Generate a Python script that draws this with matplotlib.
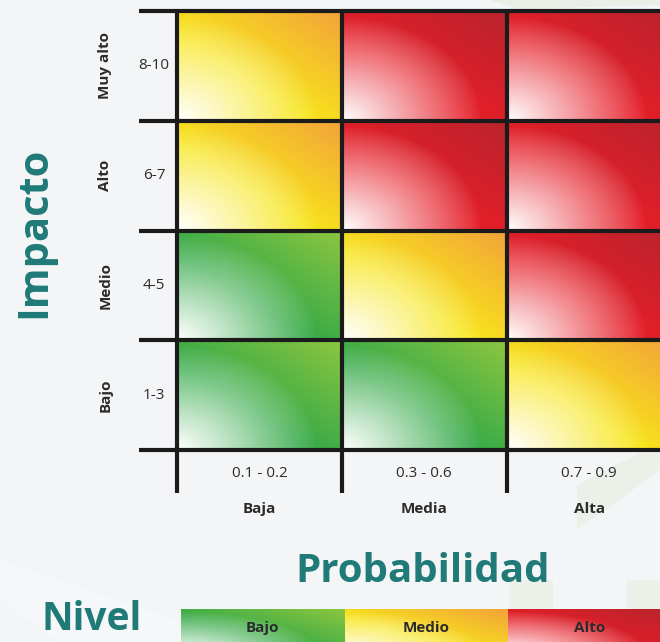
import numpy as np
import matplotlib
matplotlib.use("Agg")
import matplotlib.pyplot as plt
from matplotlib.patches import Polygon

# Risk matrix: impact (rows) vs probability (columns)
impact_names = ["Bajo", "Medio", "Alto", "Muy alto"]
impact_ranges = ["1-3", "4-5", "6-7", "8-10"]
prob_names = ["Baja", "Media", "Alta"]
prob_ranges = ["0.1 - 0.2", "0.3 - 0.6", "0.7 - 0.9"]
level_names = ["Bajo", "Medio", "Alto"]

# level index per cell, rows from Bajo (bottom) to Muy alto (top)
risk_level = [
    [0, 0, 1],
    [0, 1, 2],
    [1, 2, 2],
    [1, 2, 2],
]

# (main colour, top-right accent) for each level
level_colors = [
    ("#34a948", "#8dc63f"),
    ("#f7e61b", "#f3a23a"),
    ("#e61e28", "#b9242d"),
]

TEAL = "#1f7a78"
TEXT = "#2b2b2b"
LINE = "#1b1b1b"


def hex_rgb(h):
    h = h.lstrip("#")
    return np.array([int(h[i:i + 2], 16) for i in (0, 2, 4)]) / 255.0


def gradient(level, nx=200, ny=140):
    main, accent = hex_rgb(level_colors[level][0]), hex_rgb(level_colors[level][1])
    u = np.linspace(0, 1, nx)
    v = np.linspace(0, 1, ny)
    U, V = np.meshgrid(u, v)
    wa = np.clip((U + V - 0.8) / 1.2, 0, 1)[..., None]
    base = main * (1 - wa) + accent * wa
    d = np.sqrt((U / 0.85) ** 2 + (V / 0.95) ** 2)
    ww = (np.clip(1 - d, 0, 1) ** 0.9)[..., None]
    return base * (1 - ww) + ww


W, H = 660, 642
fig = plt.figure(figsize=(W / 100, H / 100), dpi=100)
fig.patch.set_facecolor("#f4f5f7")

# soft background shapes (pixel space, y down)
bg = fig.add_axes([0, 0, 1, 1], zorder=-5)
bg.set_xlim(0, W)
bg.set_ylim(H, 0)
bg.axis("off")
bg.add_patch(Polygon([[0, 200], [0, 560], [240, 642], [60, 642], [0, 600]], closed=True,
                     color="#f6f7f9", lw=0))
bg.add_patch(Polygon([[577, 530], [577, 485], [640, 453], [660, 453], [660, 470]],
                     closed=True, color="#ebf0e9", lw=0))
bg.add_patch(Polygon([[510, 580], [553, 580], [553, 642], [510, 642]], closed=True,
                     color="#ebf0e9", lw=0))
bg.add_patch(Polygon([[627, 580], [660, 580], [660, 642], [627, 642]], closed=True,
                     color="#ebf0e9", lw=0))
bg.add_patch(Polygon([[490, 0], [660, 0], [660, 5], [520, 9]], closed=True,
                     color="#e9efe7", lw=0))

# main grid axes
left, right = 177 / W, 671.5 / W
bottom, top = 1 - 450 / H, 1 - 11 / H
ax = fig.add_axes([left, bottom, right - left, top - bottom])
ax.set_xlim(0, 3)
ax.set_ylim(0, 4)
ax.axis("off")

for r, row in enumerate(risk_level):
    for c, lvl in enumerate(row):
        ax.imshow(gradient(lvl), origin="lower", extent=(c, c + 1, r, r + 1),
                  aspect="auto", interpolation="bilinear", zorder=1)
ax.set_xlim(0, 3)
ax.set_ylim(0, 4)

lw = 3.0
for r in range(len(impact_names) + 1):
    ax.plot([-0.23, 3.2], [r, r], color=LINE, lw=lw, clip_on=False, zorder=3,
            solid_capstyle="butt")
for c in range(len(prob_names) + 1):
    ax.plot([c, c], [-0.395, 4], color=LINE, lw=lw, clip_on=False, zorder=3,
            solid_capstyle="butt")

for r, (name, rng) in enumerate(zip(impact_names, impact_ranges)):
    ax.text(-0.14, r + 0.5, rng, ha="center", va="center", fontsize=11,
            family="Open Sans", color=TEXT)
    ax.text(-0.435, r + 0.5, name, ha="center", va="center", rotation=90,
            fontsize=11, family="Open Sans", weight="bold", color=TEXT)

for c, (name, rng) in enumerate(zip(prob_names, prob_ranges)):
    ax.text(c + 0.5, -0.21, rng, ha="center", va="center", fontsize=11,
            family="Open Sans", color=TEXT)
    ax.text(c + 0.5, -0.54, name, ha="center", va="center", fontsize=11,
            family="Open Sans", weight="bold", color=TEXT)

fig.text(35 / W, 1 - 232 / H, "Impacto", rotation=90, ha="center", va="center",
         fontsize=30, family="Open Sans", weight="bold", color=TEAL)
fig.text(423 / W, 1 - 582 / H, "Probabilidad", ha="center", va="baseline",
         fontsize=29, family="Open Sans", weight="bold", color=TEAL)
fig.text(92 / W, 1 - 630 / H, "Nivel", ha="center", va="baseline",
         fontsize=28, family="Open Sans", weight="bold", color=TEAL)

# level legend bar
lb, lt = 1 - 655 / H, 1 - 609 / H
lax = fig.add_axes([181 / W, lb, 671.5 / W - 181 / W, lt - lb])
lax.axis("off")
for i, name in enumerate(level_names):
    lax.imshow(gradient(i), origin="lower", extent=(i, i + 1, 0, 1),
               aspect="auto", interpolation="bilinear")
    lax.text(i + 0.5, 0.58, name, ha="center", va="center", fontsize=11,
             family="Open Sans", weight="bold", color=TEXT)
lax.set_xlim(0, 3)
lax.set_ylim(0, 1)

fig.savefig("out.png", dpi=100, facecolor=fig.get_facecolor())
